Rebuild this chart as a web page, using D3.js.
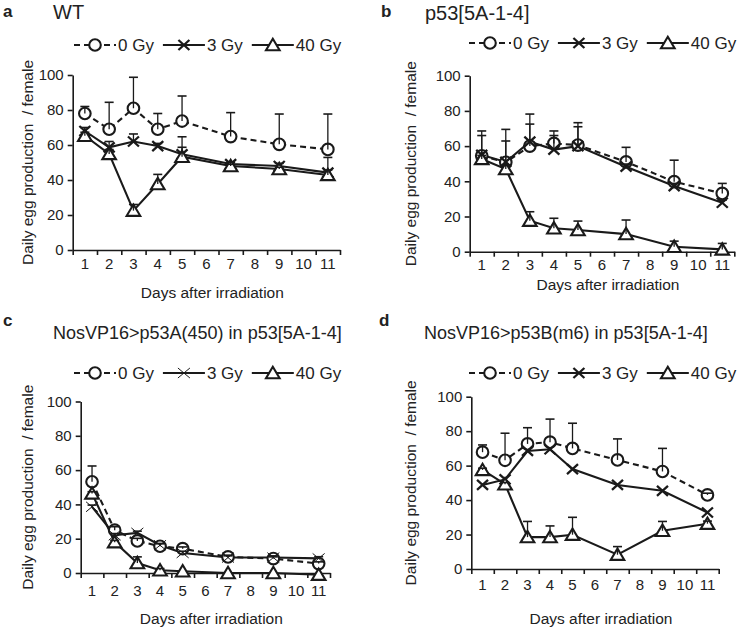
<!DOCTYPE html>
<html>
<head>
<meta charset="utf-8">
<script src="https://cdn.jsdelivr.net/npm/d3@7"></script>
<style>
	body { margin: 0; background: #fff; }
	svg text { font-family: "Liberation Sans", Arial, sans-serif; fill: #222; }
</style>
</head>
<body>
<svg id="fig" width="743" height="631"></svg>
<script>
// category axis (days 1..11), data only on these days
var dayTicks = ["1","2","3","4","5","6","7","8","9","10","11"];
var days = ["1","2","3","4","5","7","9","11"];
var yTicks = [0, 20, 40, 60, 80, 100];
var doses = ["0 Gy", "3 Gy", "40 Gy"];

// a: WT
var wt0 = [78, 69, 81, 69, 73.7, 64.8, 60.4, 57.5];
var wt0Err = [4, 15.4, 17.7, 9, 14.3, 13.7, 17.3, 20.2];
var wt3 = [68, 58.7, 62, 59.4, 54.7, 49.1, 48, 44.2];
var wt3Err = [2, 3.3, 4.3, 1.5, 10, 1, 1.5, 1.5];
var wt40 = [65.3, 54.9, 22.5, 37.7, 53.3, 48, 46.3, 42.9];
var wt40Err = [2, 2.5, 3.5, 5.5, 5.4, 1, 1, 10];

// b: p53[5A-1-4]
var mut0 = [54.5, 50.8, 60, 61.5, 60.6, 51, 39.8, 33.1];
var mut0Err = [14.1, 18.7, 12.5, 7.1, 12.7, 8.3, 12.2, 5.7];
var mut3 = [55, 51, 62.5, 58, 60, 48.3, 37.3, 27.8];
var mut3Err = [11, 11.9, 15.7, 8, 11, 1.5, 1.5, 1.5];
var mut40 = [52.7, 47, 17.6, 13.3, 12.3, 10, 2.8, 1.3];
var mut40Err = [2, 2, 5.1, 5.7, 5.1, 8, 3.2, 3.4];

// c: NosVP16>p53A(450)
var p53a0 = [53.2, 25, 18.7, 15.6, 14.2, 9.4, 8.4, 5.5];
var p53a0Err = [9.2, 2, 1.5, 1.5, 1, 1, 1, 1];
var p53a3 = [38.6, 22, 23.4, 16.2, 11.7, 9, 9, 8.5];
var p53a3Err = [1, 1, 1, 1, 1, 1, 1, 1];
var p53a40 = [46.4, 18, 5.8, 1.6, 1, 0, 0, -1];
var p53a40Err = [1, 1, 3.6, 1, 0.5, 0, 0, 0];

// d: NosVP16>p53B(m6)
var p53b0 = [67.8, 63.1, 72.6, 73.6, 70, 63.3, 56.6, 43];
var p53b0Err = [4.2, 15.7, 9.4, 13.4, 14.6, 12.2, 13.4, 1];
var p53b3 = [48.8, 52, 68.5, 69.5, 58, 48.8, 45.4, 32.8];
var p53b3Err = [0.5, 0.5, 0.5, 0.5, 0.5, 0.5, 0.5, 0.5];
var p53b40 = [57.5, 49.2, 18.5, 18.5, 19.9, 8.3, 22.2, 26.3];
var p53b40Err = [1, 1, 9.1, 6.5, 10.1, 4.7, 5.4, 1.5];

var ink = "#1a1a1a";
var svg = d3.select("#fig");

function marker(g, type, thin) {
	if (type == "0 Gy") {
		g.append("circle").attr("r", 5.8)
			.attr("fill", "#fff").attr("stroke", ink).attr("stroke-width", 2.1);
	} else if (type == "3 Gy") {
		g.append("path").attr("d", thin ? "M-6,-5L6,5M-6,5L6,-5" : "M-5.5,-5L5.5,5M-5.5,5L5.5,-5")
			.attr("fill", "none").attr("stroke", ink).attr("stroke-width", thin ? 1 : 2.3);
	} else {
		g.append("path").attr("d", "M0,-6.2L6.8,5.2L-6.8,5.2Z")
			.attr("fill", "#fff").attr("stroke", ink).attr("stroke-width", 2.1)
			.attr("stroke-linejoin", "miter");
	}
}

function Panel(p) {
	var g = svg.append("g");

	var x = d3.scaleBand().domain(dayTicks).range([p.x0, p.x1]);
	var xEdge = d3.scaleLinear().domain([0, dayTicks.length]).range([p.x0, p.x1]);
	var y = d3.scaleLinear().domain([0, 100]).range([p.yb, p.yt]);
	var cx = function(d) { return x(d) + x.bandwidth() / 2; };

	// letter + title
	g.append("text").attr("x", p.lx).attr("y", p.ly)
		.style("font-size", "17px").style("font-weight", "bold").text(p.letter);
	g.append("text").attr("x", p.tx).attr("y", p.ty)
		.style("font-size", p.tSize + "px").text(p.title);

	// y axis
	var ya = g.append("g").attr("transform", "translate(" + p.x0 + ",0)")
		.call(d3.axisLeft(y).tickValues(yTicks).tickSize(5).tickSizeOuter(0).tickPadding(4));
	ya.selectAll("text").style("font-size", "15px");

	// x axis: ticks between categories, labels centred
	g.append("g").attr("transform", "translate(0," + p.yb + ")")
		.call(d3.axisBottom(xEdge).tickValues(d3.range(0, dayTicks.length + 1)).tickSize(5).tickSizeOuter(0).tickFormat(""));
	var xl = g.append("g").attr("transform", "translate(0," + p.yb + ")")
		.call(d3.axisBottom(x).tickSize(0).tickPadding(p.xPad));
	xl.select(".domain").remove();
	xl.selectAll("text").style("font-size", "15px");

	g.selectAll(".domain, .tick line").attr("stroke", ink).attr("stroke-width", 1.6);
	g.selectAll(".tick text").attr("fill", "#222").style("font-family", "\"Liberation Sans\", Arial, sans-serif");

	// axis titles
	g.append("text").attr("x", (p.x0 + p.x1) / 2 + 6).attr("y", p.xty)
		.attr("text-anchor", "middle").style("font-size", "15.5px").text("Days after irradiation");
	g.append("text").attr("transform", "translate(" + p.ytx + "," + (p.yb + p.yt) / 2 + ") rotate(-90)")
		.attr("text-anchor", "middle").style("font-size", "15.5px").attr("xml:space", "preserve")
		.text("Daily egg production  / female");

	var line = d3.line().x(function(d) { return cx(d.day); }).y(function(d) { return y(d.v); });

	p.series.forEach(function(s) {
		var pts = days.map(function(d, i) { return {day: d, v: s.vals[i], e: s.err[i]}; });
		g.append("path").datum(pts).attr("d", line)
			.attr("fill", "none").attr("stroke", ink).attr("stroke-width", 2.1)
			.attr("stroke-dasharray", s.name == "0 Gy" ? "6,4" : null);
		s.pts = pts;
	});

	p.series.forEach(function(s) {
		s.pts.forEach(function(d) {
			var m = g.append("g").attr("transform", "translate(" + cx(d.day) + "," + y(d.v) + ")");
			marker(m, s.name, p.thinX);
		});
	});

	// error bars (plus only)
	p.series.forEach(function(s) {
		var eb = g.append("g").selectAll("g").data(s.pts.filter(function(d) { return d.e > 0.8; }))
			.enter().append("g");
		eb.append("line")
			.attr("x1", function(d) { return cx(d.day); }).attr("x2", function(d) { return cx(d.day); })
			.attr("y1", function(d) { return y(d.v); }).attr("y2", function(d) { return y(d.v + d.e); })
			.attr("stroke", ink).attr("stroke-width", 1.3);
		eb.append("line")
			.attr("x1", function(d) { return cx(d.day) - 4.5; }).attr("x2", function(d) { return cx(d.day) + 4.5; })
			.attr("y1", function(d) { return y(d.v + d.e); }).attr("y2", function(d) { return y(d.v + d.e); })
			.attr("stroke", ink).attr("stroke-width", 1.6);
	});

	// legend
	var lx = p.legX;
	doses.forEach(function(name) {
		g.append("line").attr("x1", lx).attr("x2", lx + 42).attr("y1", p.legY).attr("y2", p.legY)
			.attr("stroke", ink).attr("stroke-width", 2.1)
			.attr("stroke-dasharray", name == "0 Gy" ? "6,4" : null);
		var m = g.append("g").attr("transform", "translate(" + (lx + 21) + "," + p.legY + ")");
		marker(m, name, p.thinX);
		var t = g.append("text").attr("x", lx + 44).attr("y", p.legY + 6)
			.style("font-size", "17px").text(name);
		lx = lx + 44 + t.node().getComputedTextLength() + 9;
	});
}

var panels = [
	{letter: "a", title: "WT", lx: 3, ly: 17, tx: 53, ty: 19, tSize: 20,
		x0: 72.7, x1: 340, yb: 250, yt: 75, xPad: 8, xty: 298, ytx: 33, legX: 74, legY: 45,
		series: [{name: "0 Gy", vals: wt0, err: wt0Err}, {name: "3 Gy", vals: wt3, err: wt3Err}, {name: "40 Gy", vals: wt40, err: wt40Err}]},
	{letter: "b", title: "p53[5A-1-4]", lx: 381, ly: 17, tx: 425, ty: 20, tSize: 20,
		x0: 469.7, x1: 734.3, yb: 251.7, yt: 75.7, xPad: 8, xty: 290, ytx: 416, legX: 469, legY: 43,
		series: [{name: "0 Gy", vals: mut0, err: mut0Err}, {name: "3 Gy", vals: mut3, err: mut3Err}, {name: "40 Gy", vals: mut40, err: mut40Err}]},
	{letter: "c", title: "NosVP16>p53A(450) in p53[5A-1-4]", lx: 3, ly: 326, tx: 53, ty: 339, tSize: 18,
		x0: 80.7, x1: 330, yb: 573, yt: 401.5, xPad: 12, xty: 624, ytx: 33, legX: 74, legY: 373, thinX: true,
		series: [{name: "0 Gy", vals: p53a0, err: p53a0Err}, {name: "3 Gy", vals: p53a3, err: p53a3Err}, {name: "40 Gy", vals: p53a40, err: p53a40Err}]},
	{letter: "d", title: "NosVP16>p53B(m6) in p53[5A-1-4]", lx: 379, ly: 326, tx: 424, ty: 339, tSize: 18,
		x0: 471.3, x1: 718.7, yb: 569, yt: 396.7, xPad: 10, xty: 624, ytx: 416, legX: 469, legY: 373,
		series: [{name: "0 Gy", vals: p53b0, err: p53b0Err}, {name: "3 Gy", vals: p53b3, err: p53b3Err}, {name: "40 Gy", vals: p53b40, err: p53b40Err}]}
];

panels.forEach(Panel);
</script>
</body>
</html>
